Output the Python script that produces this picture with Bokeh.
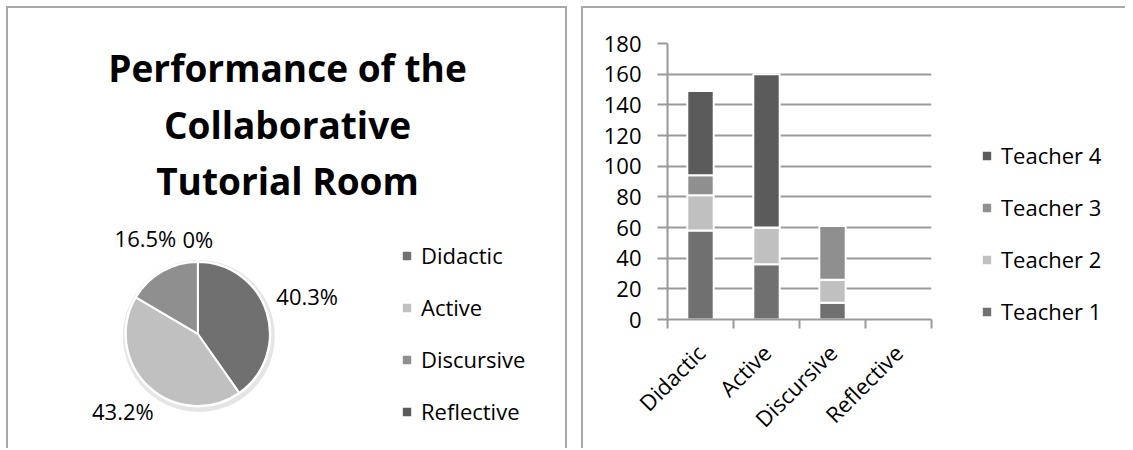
import math
from bokeh.plotting import figure
from bokeh.models import Range1d, Legend, LegendItem, Label, FixedTicker, ColumnDataSource
from bokeh.layouts import row
from bokeh.embed import file_html
from bokeh.resources import INLINE
from bokeh.core.properties import value

# ---------------- data ----------------
categories = ["Didactic", "Active", "Discursive", "Reflective"]
teachers = ["Teacher 1", "Teacher 2", "Teacher 3", "Teacher 4"]
teacher1 = [58, 36, 11, 0]
teacher2 = [23, 24, 15, 0]
teacher3 = [13, 0, 35, 0]
teacher4 = [55, 100, 0, 0]
pie_labels = ["40.3%", "43.2%", "16.5%", "0%"]
y_ticks = [0, 20, 40, 60, 80, 100, 120, 140, 160, 180]
title_lines = ["Performance of the", "Collaborative", "Tutorial Room"]

# ---------------- style ----------------
FONT = "Open Sans"
TEXT = "#000000"
GRID = "#9a9a9a"
BORDER = "2px solid #a8a8a8"
NAN = float("nan")
cat_colors = ["#707070", "#c0c0c0", "#8f8f8f", "#5b5b5b"]
teacher_colors = ["#707070", "#c0c0c0", "#8f8f8f", "#5b5b5b"]

H = 442
CH = H - 2          # canvas height below the 2px top border

def blank(width, cw, **styles):
    p = figure(width=width, height=H, x_range=Range1d(0, cw), y_range=Range1d(0, CH),
               output_backend="svg", toolbar_location=None, min_border=0,
               x_axis_location=None, y_axis_location=None, outline_line_color=None)
    p.frame_align = False
    p.xgrid.visible = False
    p.ygrid.visible = False
    p.styles = styles
    return p

def make_legend(labels, renderer, loc):
    return Legend(items=[LegendItem(label=l, renderers=[renderer], index=i) for i, l in labels],
                  location=loc, orientation="vertical", padding=0, margin=0,
                  spacing=22, glyph_width=13, glyph_height=13, label_standoff=8,
                  label_text_font=FONT, label_text_font_size="22px", label_text_color=TEXT,
                  border_line_color=None, background_fill_alpha=0)

# ---------------- pie panel ----------------
W1 = 561
p1 = blank(W1, W1 - 4, **{"border-left": BORDER, "border-top": BORDER, "border-right": BORDER,
                         "margin-left": "6px", "margin-top": "6px"})

cx, cy, R = 188, 116, 72
pie_values = [a + b + c + d for a, b, c, d in zip(teacher1, teacher2, teacher3, teacher4)]
total = float(sum(pie_values))
starts, ends = [], []
acc = 0.0
for v in pie_values:
    starts.append(math.pi / 2 - 2 * math.pi * acc)
    acc += v / total
    ends.append(math.pi / 2 - 2 * math.pi * acc)

# soft shadow + white rim
p1.circle(x=[cx + 1], y=[cy - 2], radius=R + 4, radius_units="screen",
          fill_color="#000000", fill_alpha=0.10, line_color=None)
p1.circle(x=[cx], y=[cy], radius=R + 1.5, radius_units="screen",
          fill_color="white", line_color=None)

pie_src = ColumnDataSource(dict(x=[cx if v > 0 else NAN for v in pie_values],
                                start=starts, end=ends, color=cat_colors))
wr = p1.wedge(x="x", y=cy, radius=R, radius_units="screen", start_angle="start",
              end_angle="end", direction="clock", fill_color="color",
              line_color="white", line_width=2, source=pie_src)

# data labels (best-fit style, outside the pie)
lx, ly = [], []
gap = 9
for s, e, t in zip(starts, ends, pie_labels):
    m = (s + e) / 2
    ux, uy = math.cos(m), math.sin(m)
    w, h = 12.5 * len(t), 20
    d = R + gap + 0.5 * (w * abs(ux) + h * abs(uy))
    lx.append(cx + d * ux)
    ly.append(cy + d * uy + 4)
p1.text(x=lx, y=ly, text=pie_labels, text_font=value(FONT), text_font_size="22px",
        text_color=TEXT, text_align="center", text_baseline="middle")

# title
for i, line in enumerate(title_lines):
    p1.add_layout(Label(x=277, y=381 - i * 56, text=line, text_font=FONT,
                        text_font_size="37px", text_font_style="bold",
                        text_color=TEXT, text_align="center",
                        text_baseline="alphabetic"))

p1.add_layout(make_legend(list(enumerate(categories)), wr, (392, 24)))

# ---------------- bar panel ----------------
W2 = 354
p2 = figure(width=W2, height=H, x_range=Range1d(0, len(categories)), y_range=Range1d(0, 180),
            output_backend="svg", toolbar_location=None,
            min_border_left=84, min_border_right=6, min_border_top=35, min_border_bottom=131,
            outline_line_color=None)
p2.frame_align = False
p2.styles = {"border-left": BORDER, "border-top": BORDER, "margin-top": "6px", "margin-left": "14px"}

keys = ["t1", "t2", "t3", "t4"]
centers = [i + 0.5 for i in range(len(categories))]
bar_src = ColumnDataSource(dict(x=centers, t1=teacher1, t2=teacher2, t3=teacher3, t4=teacher4))
p2.vbar_stack(keys, x="x", width=0.4, fill_color=teacher_colors,
              line_color="white", line_width=2, source=bar_src)

p2.xgrid.visible = False
p2.ygrid.ticker = FixedTicker(ticks=y_ticks)
p2.ygrid.grid_line_color = GRID
p2.ygrid.grid_line_width = 2

p2.yaxis.ticker = FixedTicker(ticks=y_ticks)
p2.yaxis.major_tick_in = 0
p2.yaxis.major_tick_out = 10
p2.yaxis.minor_tick_line_color = None
p2.yaxis.axis_line_color = GRID
p2.yaxis.axis_line_width = 2
p2.yaxis.major_tick_line_color = GRID
p2.yaxis.major_tick_line_width = 2
p2.yaxis.major_label_text_font = FONT
p2.yaxis.major_label_text_font_size = "22px"
p2.yaxis.major_label_text_color = TEXT
p2.yaxis.major_label_standoff = 16

p2.xaxis.ticker = FixedTicker(ticks=centers, minor_ticks=list(range(len(categories) + 1)))
p2.xaxis.major_label_overrides = {c: n for c, n in zip(centers, categories)}
p2.xaxis.major_tick_line_color = None
p2.xaxis.minor_tick_in = 0
p2.xaxis.minor_tick_out = 9
p2.xaxis.minor_tick_line_color = GRID
p2.xaxis.minor_tick_line_width = 2
p2.xaxis.axis_line_color = GRID
p2.xaxis.axis_line_width = 2
p2.xaxis.major_label_orientation = math.pi / 4
p2.xaxis.major_label_text_font = FONT
p2.xaxis.major_label_text_font_size = "22px"
p2.xaxis.major_label_text_color = TEXT
p2.xaxis.major_label_standoff = 20

# ---------------- bar legend panel ----------------
W3 = 190
p3 = blank(W3, W3, **{"border-top": BORDER, "margin-top": "6px"})
proxy_src = ColumnDataSource(dict(l=[NAN] * 4, r=[NAN] * 4, t=[NAN] * 4, b=[NAN] * 4,
                                  color=teacher_colors))
proxy = p3.quad(left="l", right="r", top="t", bottom="b", fill_color="color",
                line_color="white", line_width=2, source=proxy_src)
p3.add_layout(make_legend([(i, teachers[i]) for i in range(3, -1, -1)], proxy, (45, 124)))

layout = row(p1, p2, p3)
open("out.html", "w").write(file_html(layout, INLINE))
